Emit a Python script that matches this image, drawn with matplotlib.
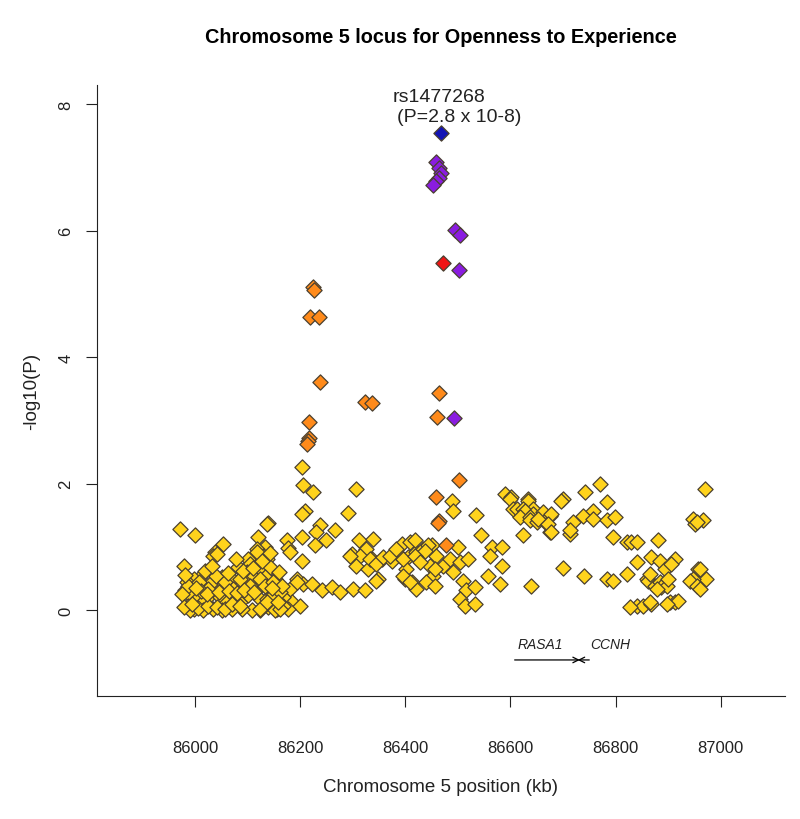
import matplotlib
matplotlib.use("Agg")
import matplotlib.pyplot as plt

plt.rcParams['font.family'] = ['Liberation Sans', 'DejaVu Sans']

# SNP positions (kb) and -log10(P), grouped by LD class
yellow_x = [86203, 86206, 86225, 86306, 86209, 86203, 86290, 86488, 86490, 86535,
            86544, 85971, 85999, 86139, 86238, 86266, 86231, 86250, 86203, 86228,
            86174, 86177, 86181, 86053, 86038, 86035, 86041, 86120, 86133, 86117,
            86130, 86117, 86101, 86136, 86203, 85978, 86082, 86105, 86098, 86311,
            86339, 86326, 86298, 86314, 86336, 86307, 86329, 86348, 86355, 86374,
            86393, 86390, 86406, 86402, 86399, 86412, 86295, 86333, 86345, 86358,
            86371, 86345, 86383, 86396, 86409, 86421, 86434, 86450, 86459, 86472,
            86485, 86396, 86421, 86409, 86447, 86453, 86440, 86418, 86444, 86437,
            86418, 86428, 86456, 86491, 86504, 86520, 86501, 86456, 86510, 86516,
            86532, 86504, 86513, 86532, 86564, 86583, 86561, 86583, 86558, 86580,
            86640, 86241, 86260, 86276, 86301, 86323, 86193, 86206, 86222, 86181,
            86184, 86200, 86177, 86168, 86193,
            86070, 86051, 86044, 86029, 86010, 85997, 85984, 85981, 85990, 86003,
            86016, 86029, 86048, 86060, 86073, 86086, 86101, 86117, 86124, 86136,
            86149, 86162, 86168, 86155, 86139, 86124, 86108, 86089, 86070, 86051,
            86035, 86016, 85997, 85987, 86124, 86143, 86152, 86133, 86111, 86095,
            86136, 85987, 86008, 86025, 86040, 86056, 86072, 86086, 86105, 86124,
            86133, 86149, 86165, 85990, 86006, 86025, 86041, 86057, 86070, 86086,
            86124, 86136, 86152, 86162, 85981, 85975, 85978,
            86012, 86022, 86046, 86064, 86079, 86093, 86113, 86146, 86158, 86001,
            86019, 86033, 86062, 86077, 86092, 86110, 86128, 86143, 86160, 85994,
            86770, 86970, 86589, 86602, 86599, 86634, 86634, 86605, 86612, 86624,
            86643, 86627, 86643, 86662, 86675, 86618, 86637, 86637, 86650, 86669,
            86624, 86675, 86713, 86700, 86697, 86741, 86783, 86757, 86738, 86757,
            86719, 86713, 86783, 86798, 86678, 86653, 86672, 86678, 86795, 86821,
            86830, 86840, 86881, 86840, 86868, 86884, 86913, 86894, 86906, 86783,
            86795, 86821, 86859, 86862, 86875, 86884, 86887, 86897, 86878, 86865,
            86900, 86840, 86852, 86868, 86827, 86865, 86903, 86913, 86919, 86897,
            86947, 86966, 86951, 86954, 86957, 86960, 86973, 86947, 86941, 86954,
            86960, 86700, 86740]
yellow_y = [2.26, 1.97, 1.86, 1.92, 1.57, 1.52, 1.54, 1.73, 1.57, 1.51,
            1.19, 1.28, 1.19, 1.38, 1.34, 1.27, 1.23, 1.11, 1.15, 1.02,
            1.10, 0.98, 0.91, 1.05, 0.91, 0.86, 0.89, 1.15, 0.99, 0.97,
            0.86, 0.91, 0.81, 0.81, 0.77, 0.70, 0.68, 0.73, 0.60, 1.10,
            1.13, 0.97, 0.89, 0.86, 0.81, 0.70, 0.65, 0.49, 0.81, 0.78,
            1.05, 0.86, 0.84, 0.65, 0.49, 0.44, 0.86, 0.81, 0.73, 0.84,
            0.86, 0.46, 0.97, 0.81, 1.07, 0.91, 0.97, 1.02, 0.86, 0.70,
            0.81, 0.54, 0.33, 0.44, 0.70, 0.54, 0.44, 1.10, 1.02, 0.94,
            0.86, 0.76, 0.65, 0.60, 0.76, 0.81, 0.99, 0.38, 0.46, 0.31,
            0.36, 0.17, 0.07, 0.10, 0.99, 0.99, 0.86, 0.70, 0.54, 0.41,
            0.38, 0.31, 0.36, 0.28, 0.33, 0.31, 0.49, 0.41, 0.41, 0.33,
            0.12, 0.07, 0.01, 0.20, 0.44,
            0.49, 0.52, 0.36, 0.41, 0.52, 0.49, 0.44, 0.31, 0.23, 0.17,
            0.12, 0.23, 0.20, 0.12, 0.07, 0.12, 0.23, 0.33, 0.17, 0.17,
            0.23, 0.28, 0.07, 0.02, 0.04, 0.00, 0.00, 0.02, 0.01, 0.00,
            0.02, 0.00, 0.02, 0.07, 0.65, 0.68, 0.49, 0.52, 0.52, 0.44,
            1.36, 0.38, 0.44, 0.33, 0.54, 0.44, 0.33, 0.49, 0.38, 0.49,
            0.38, 0.44, 0.38, 0.00, 0.03, 0.07, 0.05, 0.02, 0.10, 0.07,
            0.02, 0.12, 0.00, 0.02, 0.55, 0.25, 0.05,
            0.30, 0.26, 0.28, 0.30, 0.27, 0.32, 0.29, 0.34, 0.13, 0.35,
            0.62, 0.70, 0.58, 0.80, 0.62, 0.66, 0.78, 0.90, 0.60, 0.10,
            2.00, 1.92, 1.84, 1.79, 1.76, 1.76, 1.73, 1.60, 1.60, 1.60,
            1.60, 1.57, 1.52, 1.55, 1.49, 1.47, 1.47, 1.42, 1.39, 1.36,
            1.18, 1.23, 1.20, 1.76, 1.73, 1.87, 1.71, 1.57, 1.49, 1.44,
            1.39, 1.26, 1.42, 1.47, 1.52, 1.44, 1.36, 1.23, 1.15, 1.07,
            1.07, 1.07, 1.10, 0.76, 0.84, 0.78, 0.81, 0.65, 0.73, 0.49,
            0.46, 0.57, 0.49, 0.46, 0.38, 0.44, 0.36, 0.38, 0.33, 0.57,
            0.49, 0.07, 0.07, 0.10, 0.04, 0.12, 0.12, 0.12, 0.15, 0.10,
            1.44, 1.42, 1.36, 1.39, 0.65, 0.65, 0.49, 0.49, 0.46, 0.38,
            0.33, 0.67, 0.54]

orange_x = [86225, 86227, 86219, 86236, 86238, 86323, 86337, 86464, 86461, 86217,
            86216, 86215, 86212, 86502, 86459, 86465, 86463, 86477]
orange_y = [5.10, 5.06, 4.64, 4.64, 3.60, 3.29, 3.28, 3.43, 3.05, 2.97,
            2.72, 2.68, 2.62, 2.06, 1.79, 1.40, 1.37, 1.03]

purple_x = [86459, 86464, 86467, 86464, 86459, 86453, 86494, 86504, 86502, 86492]
purple_y = [7.09, 6.99, 6.91, 6.83, 6.78, 6.72, 6.01, 5.93, 5.38, 3.03]

red_x = [86472]
red_y = [5.48]

top_snp = "rs1477268"
top_x = [86467]
top_y = [7.55]
top_p = "(P=2.8 x 10-8)"

genes = ["RASA1", "CCNH"]
gene_start = [86608, 86750]
gene_end = [86732, 86728]

fig = plt.figure(figsize=(8, 8.2), dpi=100)
ax = fig.add_axes([0.121, 0.150, 0.860, 0.745])

groups = [(yellow_x, yellow_y, "#FFD31C"),
          (orange_x, orange_y, "#FF8A1A"),
          (purple_x, purple_y, "#8A1CE0"),
          (red_x, red_y, "#F01414"),
          (top_x, top_y, "#1414B4")]
for gx, gy, col in groups:
    ax.scatter(gx, gy, marker="D", s=60, c=col, edgecolors="#4a4030",
               linewidths=0.9, zorder=3)

ax.text(top_x[0] - 3, 8.12, top_snp, ha="center", va="center", fontsize=14, color="#222222")
ax.text(86384, 7.80, top_p, ha="left", va="center", fontsize=14, color="#222222")

# gene track
for name, g0, g1 in zip(genes, gene_start, gene_end):
    ax.annotate("", xy=(g1, -0.79), xytext=(g0, -0.79),
                arrowprops=dict(arrowstyle="->", color="black", lw=0.9,
                                shrinkA=0, shrinkB=0))
ax.text(86656, -0.54, genes[0], ha="center", va="center", fontsize=10,
        style="italic", color="#222222")
ax.text(86789, -0.54, genes[1], ha="center", va="center", fontsize=10,
        style="italic", color="#222222")

ax.set_xlim(85813, 87122)
ax.set_ylim(-1.36, 8.3)
ax.set_xticks([86000, 86200, 86400, 86600, 86800, 87000])
ax.set_yticks([0, 2, 4, 6, 8])
ax.tick_params(axis="x", labelsize=12, length=8, pad=24, colors="#222222")
ax.tick_params(axis="y", labelsize=12, length=8, pad=9, colors="#222222",
               labelrotation=90)
for lab in ax.get_yticklabels():
    lab.set_va("center")
ax.spines["top"].set_visible(False)
ax.spines["right"].set_visible(False)
ax.spines["left"].set_color("#222222")
ax.spines["bottom"].set_color("#222222")

ax.set_xlabel("Chromosome 5 position (kb)", fontsize=13.5, color="#222222", labelpad=16)
ax.set_ylabel("-log10(P)", fontsize=13.5, color="#222222", labelpad=13)
fig.suptitle("Chromosome 5 locus for Openness to Experience", x=0.551, y=0.966,
             fontsize=14.3, fontweight="bold")

fig.savefig("out.png", dpi=100)
